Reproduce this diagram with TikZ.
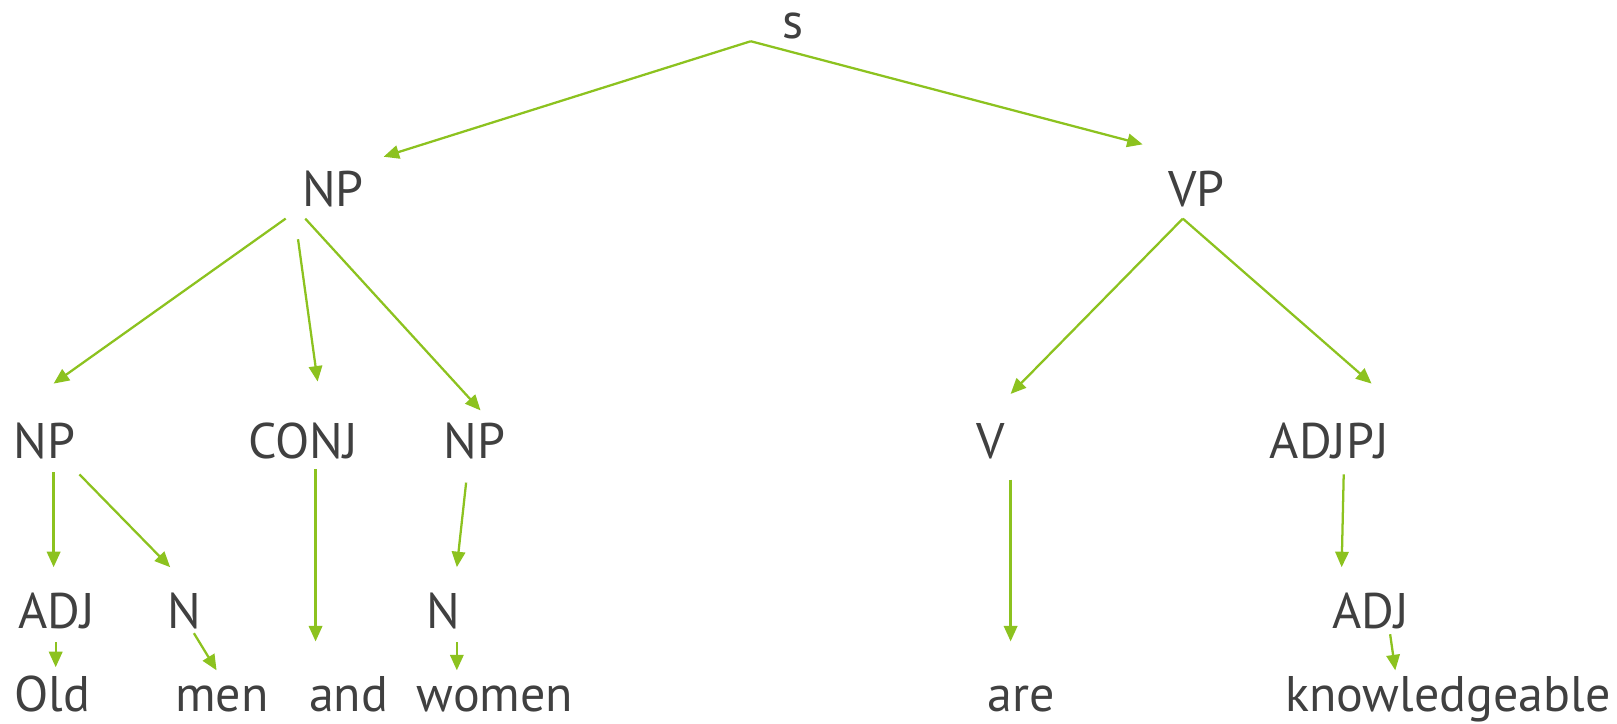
\documentclass[tikz,border=0pt]{standalone}
\usepackage{fontspec}
\setmainfont{PT Sans}
\usetikzlibrary{arrows.meta}
\definecolor{edgegreen}{HTML}{8CC21F}
\definecolor{textgray}{HTML}{404040}
\tikzset{
  lbl/.style={anchor=base, inner sep=0pt, text=textgray, font=\fontsize{13.8}{16}\selectfont},
  edge/.style={draw=edgegreen, line width=0.22mm, -{Triangle[length=1.5mm, width=1.3mm]}},
}
\begin{document}
\begin{tikzpicture}[x=0.1mm, y=-0.1mm]
\useasboundingbox (0,0) rectangle (1568,702);
% nodes
\node[lbl] (s) at (769,37) {s};
\node[lbl] (np) at (323,200) {NP};
\node[lbl] (vp) at (1160,200) {VP};
\node[lbl] (npl) at (43,445) {NP};
\node[lbl] (conj) at (294,445) {CONJ};
\node[lbl] (npm) at (460,445) {NP};
\node[lbl] (v) at (961,445) {V};
\node[lbl] (adjpj) at (1289,445) {ADJPJ};
\node[lbl] (adj) at (55,609) {ADJ};
\node[lbl] (n) at (179,609) {N};
\node[lbl] (n2) at (430,609) {N};
\node[lbl] (adj2) at (1329,609) {ADJ};
\node[lbl] (old) at (51,690) {Old};
\node[lbl] (men) at (215,690) {men};
\node[lbl] (and) at (338,690) {and};
\node[lbl] (women) at (480,690) {women};
\node[lbl] (are) at (990,690) {are};
\node[lbl] (know) at (1404,690) {knowledgeable};
% edges
\draw[edge] ([shift={(-41,3)}]s.base) -- ([shift={(49,-48)}]np.base);
\draw[edge] ([shift={(-41,3)}]s.base) -- ([shift={(-52,-60)}]vp.base);
\draw[edge] ([shift={(-46,12)}]np.base) -- ([shift={(9,-73)}]npl.base);
\draw[edge] ([shift={(-34,32)}]np.base) -- ([shift={(14,-75)}]conj.base);
\draw[edge] ([shift={(-27,12)}]np.base) -- ([shift={(6,-47)}]npm.base);
\draw[edge] ([shift={(-13,12)}]vp.base) -- ([shift={(19,-63)}]v.base);
\draw[edge] ([shift={(-13,12)}]vp.base) -- ([shift={(41,-73)}]adjpj.base);
\draw[edge] ([shift={(9,13)}]npl.base) -- ([shift={(-3,-59)}]adj.base);
\draw[edge] ([shift={(34,15)}]npl.base) -- ([shift={(-14,-59)}]n.base);
\draw[edge] ([shift={(12,10)}]conj.base) -- ([shift={(-32,-68)}]and.base);
\draw[edge] ([shift={(-8,23)}]npm.base) -- ([shift={(13,-59)}]n2.base);
\draw[edge] ([shift={(19,20)}]v.base) -- ([shift={(-10,-68)}]are.base);
\draw[edge] ([shift={(14,15)}]adjpj.base) -- ([shift={(-28,-59)}]adj2.base);
\draw[edge] ([shift={(-1,14)}]adj.base) -- ([shift={(3,-43)}]old.base);
\draw[edge] ([shift={(9,5)}]n.base) -- ([shift={(-5,-40)}]men.base);
\draw[edge] ([shift={(13,14)}]n2.base) -- ([shift={(-37,-40)}]women.base);
\draw[edge] ([shift={(19,6)}]adj2.base) -- ([shift={(-51,-40)}]know.base);
\end{tikzpicture}
\end{document}
